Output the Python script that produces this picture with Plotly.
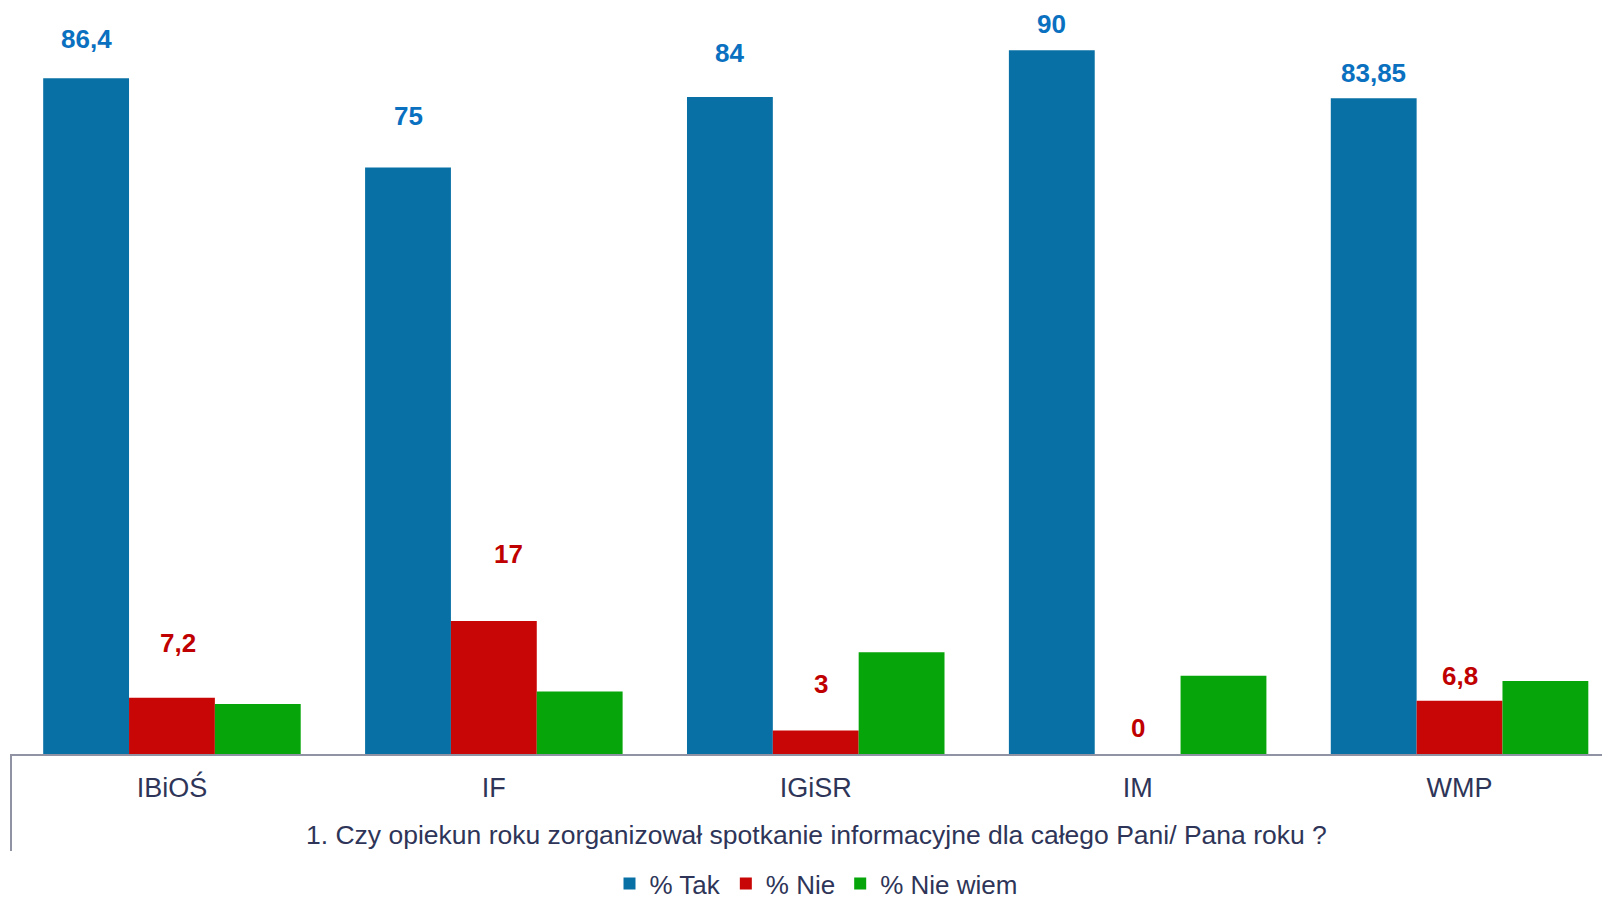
import plotly.graph_objects as go

categories = ["IBiOŚ", "IF", "IGiSR", "IM", "WMP"]
tak = [86.4, 75, 84, 90, 83.85]
nie = [7.2, 17, 3, 0, 6.8]
nie_wiem = [6.4, 8, 13, 10, 9.35]
tak_labels = ["86,4", "75", "84", "90", "83,85"]
nie_labels = ["7,2", "17", "3", "0", "6,8"]
series_names = ["% Tak", "% Nie", "% Nie wiem"]
x_title = "1. Czy opiekun roku zorganizował spotkanie informacyjne dla całego Pani/ Pana roku ?"

# style
FONT = "Liberation Sans, Arial, sans-serif"
C_BLUE, C_RED, C_GREEN = "#0870A5", "#C90606", "#06A50A"
LBL_BLUE, LBL_RED = "#0A70C0", "#C00000"
TXT = "#2E3558"
tak_shift = [39, 52, 44, 26, 25]
nie_shift = [55, 67, 47, 26, 25]
nie_xshift = [6, 15, 5, 0, 0]

fig = go.Figure()
for name, vals, col in zip(series_names, [tak, nie, nie_wiem], [C_BLUE, C_RED, C_GREEN]):
    fig.add_trace(go.Bar(x=categories, y=vals, name=name,
                         marker=dict(color=col, line=dict(width=0))))

ann = []
for i, c in enumerate(categories):
    ann.append(dict(x=c, y=tak[i], xref="x", yref="y", text=tak_labels[i], showarrow=False,
                    xshift=-85.8, yshift=tak_shift[i], yanchor="middle",
                    font=dict(family=FONT, size=26, color=LBL_BLUE, weight="bold")))
    ann.append(dict(x=c, y=nie[i], xref="x", yref="y", text=nie_labels[i], showarrow=False,
                    xshift=nie_xshift[i], yshift=nie_shift[i], yanchor="middle",
                    font=dict(family=FONT, size=26, color=LBL_RED, weight="bold")))
ann.append(dict(x=(816 - 11) / 1591, y=(754 - 835) / 754, xref="paper", yref="paper",
                text=x_title, showarrow=False, xanchor="center", yanchor="middle",
                font=dict(family=FONT, size=26.5, color=TXT)))

fig.update_layout(
    width=1602, height=901,
    margin=dict(l=11, r=0, t=0, b=147, autoexpand=False),
    paper_bgcolor="white", plot_bgcolor="white",
    barmode="group", bargap=0.2, bargroupgap=0,
    font=dict(family=FONT, size=26, color=TXT),
    xaxis=dict(range=[-0.5, -0.5 + 1591 / 321.9], showline=True, linecolor="#8F93A3",
               linewidth=2, showgrid=False, ticks="", tickfont=dict(size=27, color=TXT),
               ticklabelstandoff=9, automargin=False),
    yaxis=dict(range=[0, 754 / 7.82], visible=False, showgrid=False, automargin=False),
    legend=dict(orientation="h", x=(816 - 11) / 1591, xanchor="center",
                y=(754 - 907) / 754, yanchor="bottom", font=dict(size=26, color=TXT),
                itemwidth=30, traceorder="normal"),
    annotations=ann,
    shapes=[dict(type="line", xref="paper", yref="paper", x0=0, x1=0, y0=0,
                 y1=-(851 - 754) / 754, line=dict(color="#8F93A3", width=2))],
)

fig.write_html("out.html", config={"displayModeBar": False},
               post_script="document.body.style.margin='0';")
